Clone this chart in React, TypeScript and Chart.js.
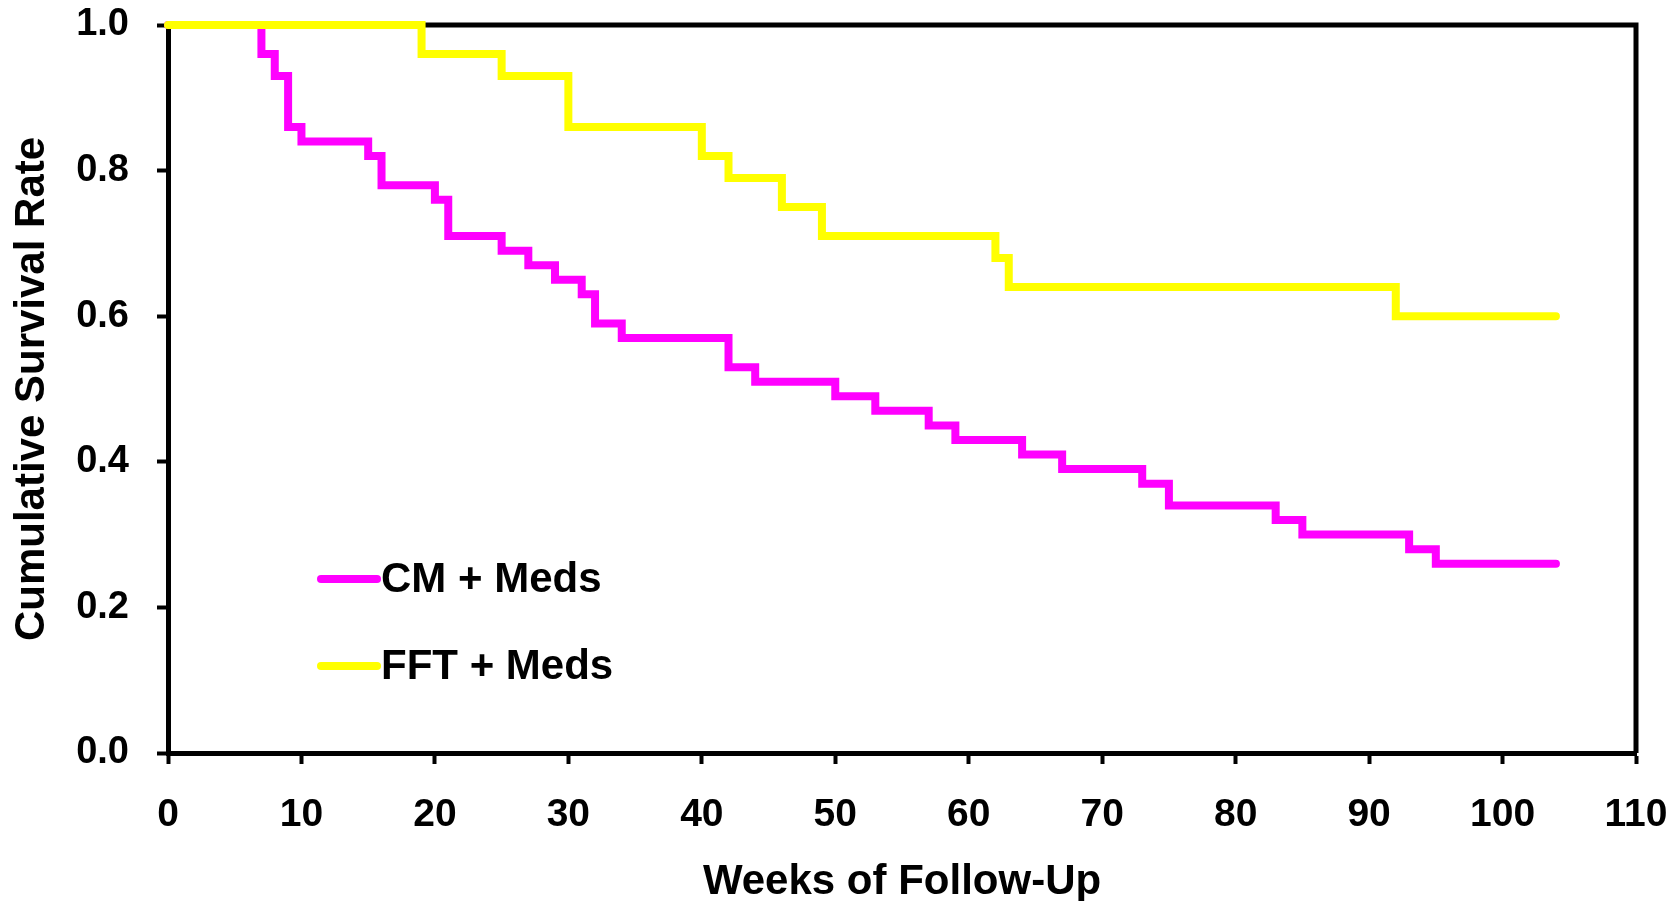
import React, { useEffect, useRef } from 'react';
import { Chart, registerables } from 'chart.js';

Chart.register(...registerables);

// Kaplan-Meier step points: (week of event, survival after the event)
const cmWeeks = [0, 7, 8, 9, 10, 15, 16, 20, 21, 25, 27, 29, 31, 32, 34, 42, 44, 50, 53, 57, 59, 64, 67, 73, 75, 83, 85, 93, 95, 104];
const cmSurvival = [1.0, 0.96, 0.93, 0.86, 0.84, 0.82, 0.78, 0.76, 0.71, 0.69, 0.67, 0.65, 0.63, 0.59, 0.57, 0.53, 0.51, 0.49, 0.47, 0.45, 0.43, 0.41, 0.39, 0.37, 0.34, 0.32, 0.30, 0.28, 0.26, 0.26];

const fftWeeks = [0, 19, 25, 30, 40, 42, 46, 49, 62, 63, 92, 104];
const fftSurvival = [1.0, 0.96, 0.93, 0.86, 0.82, 0.79, 0.75, 0.71, 0.68, 0.64, 0.60, 0.60];

const seriesLabels = ['CM + Meds', 'FFT + Meds'];
const seriesColors = ['#FF00FF', '#FFFF00'];

const xMin = 0;
const xMax = 110;
const xStep = 10;
const yMin = 0;
const yMax = 1;
const yStep = 0.2;

const xTitle = 'Weeks of Follow-Up';
const yTitle = 'Cumulative Survival Rate';

const FONT = '"Liberation Sans", Arial, Helvetica, sans-serif';

const toPoints = (xs: number[], ys: number[]) => xs.map((x, i) => ({ x, y: ys[i] }));

const framePlugin = {
  id: 'frame',
  beforeDatasetsDraw(chart: any) {
    const { ctx, chartArea } = chart;
    const { left, right, top, bottom } = chartArea;
    ctx.save();
    ctx.strokeStyle = '#000';
    ctx.lineWidth = 5;
    ctx.lineCap = 'butt';
    ctx.beginPath();
    ctx.moveTo(left - 2.5, top);
    ctx.lineTo(right + 2.5, top);
    ctx.moveTo(right, top);
    ctx.lineTo(right, bottom);
    ctx.stroke();
    ctx.restore();
  },
};

const insetLegendPlugin = {
  id: 'insetLegend',
  afterDatasetsDraw(chart: any) {
    const { ctx, chartArea } = chart;
    const x0 = chartArea.left + 153;
    const x1 = chartArea.left + 209;
    const tx = chartArea.left + 213;
    const ys = [chartArea.top + 554, chartArea.top + 641];
    ctx.save();
    seriesLabels.forEach((label, i) => {
      ctx.strokeStyle = seriesColors[i];
      ctx.lineWidth = 8;
      ctx.lineCap = 'round';
      ctx.beginPath();
      ctx.moveTo(x0, ys[i]);
      ctx.lineTo(x1, ys[i]);
      ctx.stroke();
      ctx.fillStyle = '#000';
      ctx.font = `bold 42px ${FONT}`;
      ctx.textAlign = 'left';
      ctx.textBaseline = 'middle';
      ctx.fillText(label, tx, ys[i] + 1);
    });
    ctx.restore();
  },
};

export default function App() {
  const canvasRef = useRef<HTMLCanvasElement | null>(null);

  useEffect(() => {
    const canvas = canvasRef.current;
    if (!canvas) return;
    const chart = new Chart(canvas, {
      type: 'line',
      data: {
        datasets: [
          {
            label: seriesLabels[0],
            data: toPoints(cmWeeks, cmSurvival),
            borderColor: seriesColors[0],
            backgroundColor: seriesColors[0],
            borderWidth: 8,
            stepped: 'before',
            pointRadius: 0,
            fill: false,
            borderCapStyle: 'round',
            borderJoinStyle: 'miter',
            order: 2,
            clip: false,
          },
          {
            label: seriesLabels[1],
            data: toPoints(fftWeeks, fftSurvival),
            borderColor: seriesColors[1],
            backgroundColor: seriesColors[1],
            borderWidth: 8,
            stepped: 'before',
            pointRadius: 0,
            fill: false,
            borderCapStyle: 'round',
            borderJoinStyle: 'miter',
            order: 1,
            clip: false,
          },
        ],
      },
      options: {
        responsive: false,
        animation: false,
        devicePixelRatio: 1,
        layout: { padding: { top: 25, right: 44, left: 0, bottom: 0 } },
        plugins: {
          legend: { display: false },
          tooltip: { enabled: false },
          title: { display: false },
        },
        scales: {
          x: {
            type: 'linear',
            min: xMin,
            max: xMax,
            afterFit: (s: any) => {
              s.height = 148;
              s.paddingLeft = 0;
              s.paddingRight = 0;
            },
            ticks: {
              stepSize: xStep,
              color: '#000',
              padding: 28,
              maxRotation: 0,
              font: { family: FONT, size: 39, weight: 'bold' },
            },
            grid: {
              drawOnChartArea: false,
              drawTicks: true,
              tickLength: 11,
              tickWidth: 4,
              tickColor: '#000',
              color: '#000',
            },
            border: { display: true, color: '#000', width: 5 },
            title: {
              display: true,
              text: xTitle,
              color: '#000',
              font: { family: FONT, size: 42, weight: 'bold', lineHeight: 1 },
              padding: { top: 0, bottom: -2 },
            },
          },
          y: {
            type: 'linear',
            min: yMin,
            max: yMax,
            afterFit: (s: any) => {
              s.width = 168;
              s.paddingTop = 0;
              s.paddingBottom = 0;
            },
            ticks: {
              stepSize: yStep,
              color: '#000',
              padding: 28,
              font: { family: FONT, size: 38, weight: 'bold' },
              callback: (v: any) => Number(v).toFixed(1),
            },
            grid: {
              drawOnChartArea: false,
              drawTicks: true,
              tickLength: 11,
              tickWidth: 4,
              tickColor: '#000',
              color: '#000',
            },
            border: { display: true, color: '#000', width: 5 },
            title: {
              display: true,
              text: yTitle,
              color: '#000',
              font: { family: FONT, size: 42, weight: 'bold', lineHeight: 1 },
              padding: { top: 11, bottom: 0 },
            },
          },
        },
      },
      plugins: [framePlugin, insetLegendPlugin],
    } as any);
    return () => chart.destroy();
  }, []);

  return (
    <div style={{ position: 'fixed', left: 0, top: 0, width: 1680, height: 901, background: '#fff' }}>
      <canvas ref={canvasRef} width={1680} height={901} style={{ display: 'block', width: 1680, height: 901 }} />
    </div>
  );
}
